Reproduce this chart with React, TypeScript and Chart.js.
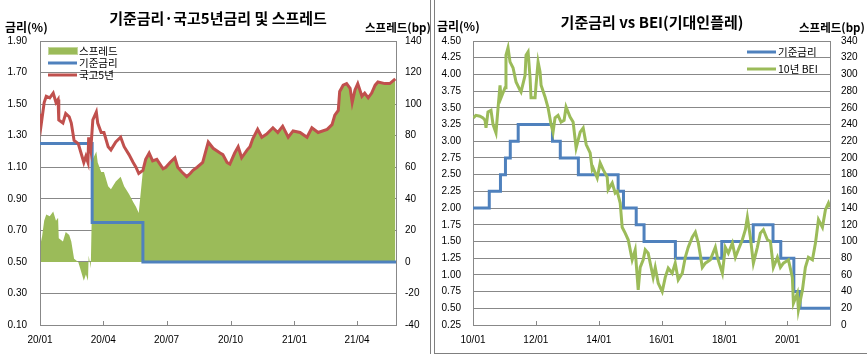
import React, { useEffect, useRef } from "react";
import { Chart, registerables } from "chart.js";
Chart.register(...registerables);

// ---------- Left chart: 기준금리·국고5년금리 및 스프레드 ----------
const gov5Dates = [
  "2020-01-02","2020-01-03","2020-01-07","2020-01-10","2020-01-15","2020-01-20","2020-01-24","2020-01-27","2020-01-28",
  "2020-02-03","2020-02-07","2020-02-12","2020-02-15","2020-02-19","2020-02-25","2020-02-29",
  "2020-03-04","2020-03-07","2020-03-10","2020-03-11","2020-03-14","2020-03-17","2020-03-22","2020-03-24","2020-03-29",
  "2020-04-02","2020-04-08","2020-04-12","2020-04-19","2020-04-26",
  "2020-05-01","2020-05-08","2020-05-14","2020-05-18","2020-05-22","2020-05-28",
  "2020-06-01","2020-06-06","2020-06-11","2020-06-17","2020-06-26","2020-06-30",
  "2020-07-06","2020-07-13","2020-07-17","2020-07-23","2020-07-30",
  "2020-08-04","2020-08-08","2020-08-14","2020-08-22","2020-08-30",
  "2020-09-06","2020-09-16","2020-09-20","2020-09-26","2020-09-30",
  "2020-10-07","2020-10-12","2020-10-17","2020-10-25","2020-10-29",
  "2020-11-02","2020-11-09","2020-11-15","2020-11-22",
  "2020-12-01","2020-12-08","2020-12-15","2020-12-23","2020-12-30",
  "2021-01-09","2021-01-19","2021-01-26",
  "2021-02-04","2021-02-17","2021-02-24","2021-02-28",
  "2021-03-05","2021-03-07","2021-03-12","2021-03-17","2021-03-22","2021-03-25","2021-03-29",
  "2021-04-02","2021-04-08","2021-04-12","2021-04-17","2021-04-22","2021-04-27",
  "2021-05-01","2021-05-11","2021-05-18","2021-05-26",
];
const gov5Values = [
  1.44,1.38,1.51,1.55,1.54,1.57,1.51,1.53,1.40,
  1.38,1.44,1.42,1.38,1.27,1.25,1.19,
  1.13,1.17,1.13,1.29,1.21,1.40,1.45,1.38,1.32,
  1.32,1.23,1.21,1.26,1.29,
  1.23,1.18,1.13,1.10,1.06,1.08,
  1.15,1.19,1.14,1.15,1.09,1.10,
  1.13,1.16,1.10,1.07,1.04,
  1.06,1.08,1.10,1.13,1.26,
  1.22,1.19,1.18,1.13,1.12,
  1.19,1.23,1.16,1.21,1.23,
  1.28,1.34,1.29,1.31,
  1.35,1.32,1.36,1.29,1.33,
  1.32,1.29,1.35,
  1.32,1.34,1.37,1.43,
  1.46,1.58,1.62,1.63,1.60,1.51,1.59,
  1.63,1.55,1.57,1.54,1.57,1.62,
  1.64,1.63,1.63,1.66,
];
const spreadDates = gov5Dates;
const spreadBp = [
  19,13,26,30,29,32,26,28,15,
  13,19,17,13,2,0,-6,
  -12,-8,-12,4,-4,65,70,63,57,
  57,48,46,51,54,
  48,43,38,35,31,58,
  65,69,64,65,59,60,
  63,66,60,57,54,
  56,58,60,63,76,
  72,69,68,63,62,
  69,73,66,71,73,
  78,84,79,81,
  85,82,86,79,83,
  82,79,85,
  82,84,87,93,
  96,108,112,113,110,101,109,
  113,105,107,104,107,112,
  114,113,113,116,
];
const baseLeftDates = ["2020-01-01", "2020-03-16", "2020-05-28", "2021-05-27"];
const baseLeftValues = [1.25, 0.75, 0.5, 0.5];
const leftXTickDates = ["2020-01-01","2020-04-01","2020-07-01","2020-10-01","2021-01-01","2021-04-01"];
const leftXTickLabels = ["20/01","20/04","20/07","20/10","21/01","21/04"];

// ---------- Right chart: 기준금리 vs BEI(기대인플레) ----------
const beiDates = [
  "2010-01-04","2010-02-04","2010-03-23","2010-04-27","2010-05-21","2010-06-01","2010-06-24","2010-07-29","2010-08-22","2010-09-25","2010-10-19","2010-11-11","2010-11-23",
  "2011-01-08","2011-01-19","2011-02-12","2011-03-07","2011-04-11","2011-05-16","2011-07-02","2011-07-13","2011-08-29","2011-09-09","2011-10-03","2011-10-26","2011-11-06","2011-12-23",
  "2012-01-03","2012-01-27","2012-02-19","2012-03-02","2012-04-17","2012-05-22","2012-06-26","2012-07-19","2012-08-11","2012-09-15","2012-10-20","2012-11-24","2012-12-17",
  "2013-02-02","2013-03-09","2013-04-13","2013-05-30","2013-07-04","2013-08-08","2013-09-23","2013-10-17","2013-10-28","2013-12-14",
  "2014-01-17","2014-02-21","2014-04-09","2014-04-20","2014-06-06","2014-07-11","2014-08-03","2014-09-07","2014-09-30","2014-11-04","2014-12-09",
  "2015-01-24","2015-02-28","2015-04-04","2015-04-27","2015-06-01","2015-06-25","2015-07-29","2015-08-22","2015-09-25","2015-10-19","2015-11-23",
  "2016-01-08","2016-02-12","2016-03-18","2016-05-03","2016-06-07","2016-07-12","2016-08-28","2016-10-02","2016-11-05","2016-12-22",
  "2017-01-27","2017-03-03","2017-04-18","2017-05-23","2017-07-20","2017-09-16","2017-10-10","2017-12-07",
  "2018-01-10","2018-02-14","2018-04-02","2018-05-07","2018-06-10","2018-07-27","2018-08-31","2018-09-23","2018-10-28","2018-12-02",
  "2019-01-17","2019-02-21","2019-03-28","2019-05-14","2019-06-18","2019-07-22","2019-09-07","2019-10-12","2019-11-16",
  "2020-01-13","2020-02-28","2020-03-11","2020-04-26","2020-05-08","2020-06-24","2020-07-28","2020-09-01","2020-10-18","2020-11-22","2020-12-27",
  "2021-02-11","2021-03-18","2021-04-22","2021-05-08",
];
const beiBp = [
  248,251,250,248,245,236,255,257,240,230,260,287,272,
  284,323,332,315,308,291,281,279,299,323,327,296,272,272,
  287,315,303,287,273,260,240,231,248,251,243,245,261,
  249,243,212,231,236,216,206,186,188,176,
  194,186,177,162,170,158,160,146,117,110,102,
  78,90,42,69,78,90,86,74,57,69,50,
  40,57,68,62,74,54,62,81,93,105,
  111,98,69,74,78,93,81,62,
  93,86,98,81,90,102,114,129,105,74,
  93,110,114,102,100,69,81,69,74,
  78,57,26,38,18,42,69,81,78,98,126,
  117,138,146,141,
];
const baseRightDates = [
  "2010-01-01","2010-07-09","2010-11-16","2011-01-13","2011-03-10","2011-06-10","2012-07-12","2012-10-11",
  "2013-05-09","2014-08-14","2014-10-15","2015-03-12","2015-06-11","2016-06-09","2017-11-30","2018-11-30",
  "2019-07-18","2019-10-16","2020-03-16","2020-05-28","2021-05-10",
];
const baseRightValues = [
  2.0,2.25,2.5,2.75,3.0,3.25,3.0,2.75,
  2.5,2.25,2.0,1.75,1.5,1.25,1.5,1.75,
  1.5,1.25,0.75,0.5,0.5,
];
const rightXTickDates = ["2010-01-01","2012-01-01","2014-01-01","2016-01-01","2018-01-01","2020-01-01"];
const rightXTickLabels = ["10/01","12/01","14/01","16/01","18/01","20/01"];

// ---------- helpers ----------
const dayNum = (s: string) => {
  const [y, m, d] = s.split("-").map(Number);
  return Date.UTC(y, m - 1, d) / 86400000;
};
const pts = (dates: string[], vals: number[]) => dates.map((d, i) => ({ x: dayNum(d), y: vals[i] }));

const GRID = "#888888";
const TICK_FONT = { family: "'Liberation Sans', Arial, sans-serif", size: 10 };
const KFONT = "'Noto Sans CJK KR', 'Noto Sans', sans-serif";

type LegendItem = { kind: "box" | "line"; color: string; label: string; y: number };

function overlayPlugin(legendX: number, items: LegendItem[]) {
  return {
    id: "overlay",
    afterDraw(chart: any) {
      const ctx = chart.ctx;
      const xs = chart.scales.x;
      const bottom = chart.chartArea.bottom;
      ctx.save();
      ctx.strokeStyle = GRID;
      ctx.lineWidth = 1;
      xs.ticks.forEach((t: any) => {
        const px = Math.round(xs.getPixelForValue(t.value)) + 0.5;
        ctx.beginPath();
        ctx.moveTo(px, bottom);
        ctx.lineTo(px, bottom - 4);
        ctx.stroke();
      });
      items.forEach((it) => {
        if (it.kind === "box") {
          ctx.fillStyle = it.color;
          ctx.fillRect(legendX, it.y - 3, 29, 6);
          ctx.strokeStyle = "#C3D69B";
          ctx.lineWidth = 1;
          ctx.strokeRect(legendX + 0.5, it.y - 3.5, 29, 7);
        } else {
          ctx.strokeStyle = it.color;
          ctx.lineWidth = 3;
          ctx.beginPath();
          ctx.moveTo(legendX, it.y);
          ctx.lineTo(legendX + 29, it.y);
          ctx.stroke();
        }
        ctx.fillStyle = "#000";
        ctx.font = `10.5px ${KFONT}`;
        ctx.textBaseline = "middle";
        ctx.textAlign = "left";
        ctx.fillText(it.label, legendX + 31, it.y + 0.5);
      });
      ctx.restore();
    },
  };
}

function xScale(minD: string, maxD: string, tickDates: string[], tickLabels: string[]) {
  return {
    type: "linear",
    min: dayNum(minD),
    max: dayNum(maxD),
    afterBuildTicks: (s: any) => {
      s.ticks = tickDates.map((d) => ({ value: dayNum(d) }));
    },
    afterFit: (s: any) => {
      s.height = 29;
    },
    ticks: {
      autoSkip: false,
      maxRotation: 0,
      padding: 9,
      color: "#000",
      font: TICK_FONT,
      callback: (_v: any, i: number) => tickLabels[i],
    },
    grid: { drawOnChartArea: false, drawTicks: false },
    border: { color: GRID },
  };
}

function LeftChart() {
  const ref = useRef<HTMLCanvasElement>(null);
  useEffect(() => {
    const chart = new Chart(ref.current as HTMLCanvasElement, {
      type: "line",
      data: {
        datasets: [
          { label: "국고5년", data: pts(gov5Dates, gov5Values), yAxisID: "y", borderColor: "#C0504D", borderWidth: 3, pointRadius: 0, fill: false, order: 0 },
          { label: "기준금리", data: pts(baseLeftDates, baseLeftValues), yAxisID: "y", borderColor: "#4F81BD", borderWidth: 3, pointRadius: 0, stepped: "before", fill: false, order: 1 },
          { label: "스프레드", data: pts(spreadDates, spreadBp), yAxisID: "y2", borderWidth: 0, borderColor: "rgba(0,0,0,0)", backgroundColor: "#9BBB59", pointRadius: 0, fill: "origin", order: 2 },
        ],
      } as any,
      options: {
        animation: false,
        responsive: false,
        maintainAspectRatio: false,
        devicePixelRatio: 1,
        layout: { padding: { top: 41, left: 0, right: 0, bottom: 0 } },
        plugins: { legend: { display: false }, tooltip: { enabled: false } },
        scales: {
          x: xScale("2020-01-01", "2021-05-27", leftXTickDates, leftXTickLabels),
          y: {
            position: "left",
            min: 0.1,
            max: 1.9,
            afterFit: (s: any) => { s.width = 40; },
            ticks: { stepSize: 0.2, padding: 13, color: "#000", font: TICK_FONT, callback: (v: any) => Number(v).toFixed(2) },
            grid: { color: GRID, drawTicks: false },
            border: { color: GRID },
          },
          y2: {
            position: "right",
            min: -40,
            max: 140,
            afterFit: (s: any) => { s.width = 34; },
            ticks: { stepSize: 20, padding: 9, color: "#000", font: TICK_FONT },
            grid: { drawOnChartArea: false, drawTicks: false },
            border: { color: GRID },
          },
        } as any,
      },
      plugins: [
        overlayPlugin(48, [
          { kind: "box", color: "#9BBB59", label: "스프레드", y: 51 },
          { kind: "line", color: "#4F81BD", label: "기준금리", y: 63 },
          { kind: "line", color: "#C0504D", label: "국고5년", y: 75 },
        ]),
      ],
    });
    return () => chart.destroy();
  }, []);
  return <canvas ref={ref} width={430} height={354} style={{ position: "absolute", left: 0, top: 0, width: 430, height: 354 }} />;
}

function RightChart() {
  const ref = useRef<HTMLCanvasElement>(null);
  useEffect(() => {
    const chart = new Chart(ref.current as HTMLCanvasElement, {
      type: "line",
      data: {
        datasets: [
          { label: "10년 BEI", data: pts(beiDates, beiBp), yAxisID: "y2", borderColor: "#9BBB59", borderWidth: 3, pointRadius: 0, fill: false, order: 0 },
          { label: "기준금리", data: pts(baseRightDates, baseRightValues), yAxisID: "y", borderColor: "#4F81BD", borderWidth: 3, pointRadius: 0, stepped: "before", fill: false, order: 1 },
        ],
      } as any,
      options: {
        animation: false,
        responsive: false,
        maintainAspectRatio: false,
        devicePixelRatio: 1,
        layout: { padding: { top: 41, left: 0, right: 0, bottom: 0 } },
        plugins: { legend: { display: false }, tooltip: { enabled: false } },
        scales: {
          x: xScale("2010-01-01", "2021-05-10", rightXTickDates, rightXTickLabels),
          y: {
            position: "left",
            min: 0.25,
            max: 4.5,
            afterFit: (s: any) => { s.width = 38; },
            ticks: { stepSize: 0.25, padding: 12, color: "#000", font: TICK_FONT, callback: (v: any) => Number(v).toFixed(2) },
            grid: { color: GRID, drawTicks: false },
            border: { color: GRID },
          },
          y2: {
            position: "right",
            min: 0,
            max: 340,
            afterFit: (s: any) => { s.width = 37; },
            ticks: { stepSize: 20, padding: 11, color: "#000", font: TICK_FONT },
            grid: { drawOnChartArea: false, drawTicks: false },
            border: { color: GRID },
          },
        } as any,
      },
      plugins: [
        overlayPlugin(312, [
          { kind: "line", color: "#4F81BD", label: "기준금리", y: 52 },
          { kind: "line", color: "#9BBB59", label: "10년 BEI", y: 69 },
        ]),
      ],
    });
    return () => chart.destroy();
  }, []);
  return <canvas ref={ref} width={432} height={354} style={{ position: "absolute", left: 435, top: 0, width: 432, height: 354 }} />;
}

const txt = (extra: React.CSSProperties): React.CSSProperties => ({
  position: "absolute",
  whiteSpace: "nowrap",
  fontFamily: KFONT,
  color: "#000",
  ...extra,
});

export default function App() {
  return (
    <div style={{ position: "fixed", left: 0, top: 0, width: 867, height: 354, background: "#fff", overflow: "hidden" }}>
      <LeftChart />
      <RightChart />
      <div style={txt({ left: 218, top: 10, fontSize: 15, lineHeight: "15px", fontWeight: 700, transform: "translateX(-50%)" })}>
        기준금리·국고5년금리 및 스프레드
      </div>
      <div style={txt({ left: 5, top: 21, fontSize: 12, lineHeight: "12px", fontWeight: 700 })}>금리(%)</div>
      <div style={txt({ left: 365, top: 21, fontSize: 11.5, lineHeight: "12px", fontWeight: 700 })}>스프레드(bp)</div>
      <div style={txt({ left: 652, top: 13.5, fontSize: 15, lineHeight: "15px", fontWeight: 700, transform: "translateX(-50%)" })}>
        기준금리 vs BEI(기대인플레)
      </div>
      <div style={txt({ left: 437, top: 20, fontSize: 12, lineHeight: "12px", fontWeight: 700 })}>금리(%)</div>
      <div style={txt({ left: 799, top: 21, fontSize: 11.5, lineHeight: "12px", fontWeight: 700 })}>스프레드(bp)</div>
      <div style={{ position: "absolute", left: 430, top: 0, width: 1, height: 354, background: "#7f7f7f" }} />
      <div style={{ position: "absolute", left: 434, top: 0, width: 1, height: 354, background: "#7f7f7f" }} />
      <div style={{ position: "absolute", left: 434, top: 353, width: 433, height: 1, background: "#7f7f7f" }} />
    </div>
  );
}
